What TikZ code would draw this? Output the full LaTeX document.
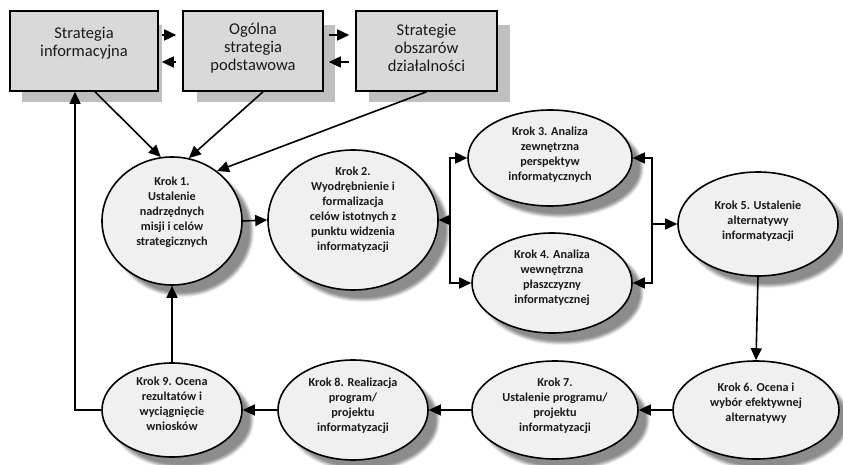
\documentclass[tikz,border=0pt]{standalone}
\usepackage{fontspec}
\setmainfont{Carlito}
\usetikzlibrary{arrows.meta,shapes.geometric,shadows.blur,calc}
\definecolor{boxfill}{HTML}{D9D9D9}
\definecolor{boxshade}{HTML}{BFBFBF}
\definecolor{stepfill}{HTML}{F0F0F0}
\definecolor{ink}{HTML}{1A1A1A}

\begin{document}
\begin{tikzpicture}[x=1pt,y=-1pt,
  box/.style={draw=black, line width=1.6pt, fill=boxfill, minimum height=80pt, inner sep=0pt},
  boxshadow/.style={fill=boxshade},
  boxtext/.style={font=\fontsize{16.5}{18}\selectfont, align=center, text=ink, inner sep=0pt},
  stepell/.style={ellipse, draw=black, line width=1.6pt, fill=stepfill, inner sep=0pt,
    blur shadow={shadow xshift=10pt, shadow yshift=-10pt, shadow opacity=45, shadow blur radius=2.5pt}},
  steptext/.style={font=\bfseries\fontsize{12.2}{15}\selectfont, align=center, text=ink, inner sep=0pt},
  link/.style={line width=1.6pt, -{Triangle[length=12pt,width=11pt]}}
]
\useasboundingbox (0,0) rectangle (843,465);

% strategy boxes with their flat shadows
\fill[boxshadow] (22,25) rectangle (162,102);
\fill[boxshadow] (197,25) rectangle (335,102);
\fill[boxshadow] (369,25) rectangle (510,102);
\node[box, minimum width=148pt] (b1) at (84,51) {};
\node[box, minimum width=140pt] (b2) at (253,51) {};
\node[box, minimum width=141pt] (b3) at (426.5,51) {};
\node[boxtext] (t1) at (84,43) {Strategia\\informacyjna};
\node[boxtext] (t2) at (253,48) {Ogólna\\strategia\\podstawowa};
\node[boxtext] (t3) at (426.5,48) {Strategie\\obszarów\\działalności};

% process steps
\node[stepell, minimum width=140pt, minimum height=128pt] (k1) at (172,221) {};
\node[stepell, minimum width=170pt, minimum height=140pt] (k2) at (353,220) {};
\node[stepell, minimum width=164pt, minimum height=96pt]  (k3) at (550,158) {};
\node[stepell, minimum width=160pt, minimum height=100pt] (k4) at (552,283) {};
\node[stepell, minimum width=160pt, minimum height=104pt] (k5) at (758,224) {};
\node[stepell, minimum width=166pt, minimum height=98pt]  (k6) at (756,410) {};
\node[stepell, minimum width=166pt, minimum height=98pt]  (k7) at (555,410) {};
\node[stepell, minimum width=150pt, minimum height=100pt] (k8) at (353,410) {};
\node[stepell, minimum width=140pt, minimum height=94pt]  (k9) at (172,410) {};

\node[steptext] (s1) at (172,212) {Krok 1.\\Ustalenie\\nadrzędnych\\misji i celów\\strategicznych};
\node[steptext] (s2) at (353,210) {Krok 2.\\Wyodrębnienie i\\formalizacja\\celów istotnych z\\punktu widzenia\\informatyzacji};
\node[steptext] (s3) at (550,155) {Krok 3. Analiza\\zewnętrzna\\perspektyw\\informatycznych};
\node[steptext] (s4) at (552,278) {Krok 4. Analiza\\wewnętrzna\\płaszczyzny\\informatycznej};
\node[steptext] (s5) at (758,221) {Krok 5. Ustalenie\\alternatywy\\informatyzacji};
\node[steptext] (s6) at (756,403) {Krok 6. Ocena i\\wybór efektywnej\\alternatywy};
\node[steptext] (s7) at (555,406) {Krok 7.\\Ustalenie programu/\\projektu\\informatyzacji};
\node[steptext] (s8) at (353,406) {Krok 8. Realizacja\\program/\\projektu\\informatyzacji};
\node[steptext] (s9) at (172,404) {Krok 9. Ocena\\rezultatów i\\wyciągnięcie\\wniosków};

% links between the strategy boxes
\draw[link] ([xshift=3pt,yshift=16pt]b1.east) -- ([xshift=-6pt,yshift=16pt]b2.west);
\draw[link] ([xshift=-6pt,yshift=-11pt]b2.west) -- ([xshift=3pt,yshift=-11pt]b1.east);
\draw[link] ([xshift=5pt,yshift=16pt]b2.east) -- ([xshift=-6pt,yshift=16pt]b3.west);
\draw[link] ([xshift=-6pt,yshift=-11pt]b3.west) -- ([xshift=5pt,yshift=-11pt]b2.east);

% strategies feed step 1
\draw[link] ([xshift=11pt]b1.south) -- (k1.100);
\draw[link] ([xshift=10pt]b2.south) -- (k1.75);
\draw[link] (b3.south) -- (k1.48);

% main flow
\draw[link] (k1.east) -- (k2.west);
\coordinate (jl) at (450,0 |- k2.east);
\coordinate (jr) at (652,0 |- k5.west);
\draw[link] (jl) -- (k2.east);
\draw[link] (jl) |- (k3.west);
\draw[link] (jl) |- (k4.west);
\draw[link] (jr) |- (k3.east);
\draw[link] (jr) |- (k4.east);
\draw[link] (jr) -- (k5.west);
\draw[link] (k5.south) -- (k6.north);
\draw[link] (k6.west) -- (k7.east);
\draw[link] (k7.west) -- (k8.east);
\draw[link] (k8.west) -- (k9.east);

% feedback from step 9
\draw[link] (k9.north) -- (k1.south);
\draw[link] (k9.west) -| ([xshift=-9pt]b1.south);
\end{tikzpicture}
\end{document}
